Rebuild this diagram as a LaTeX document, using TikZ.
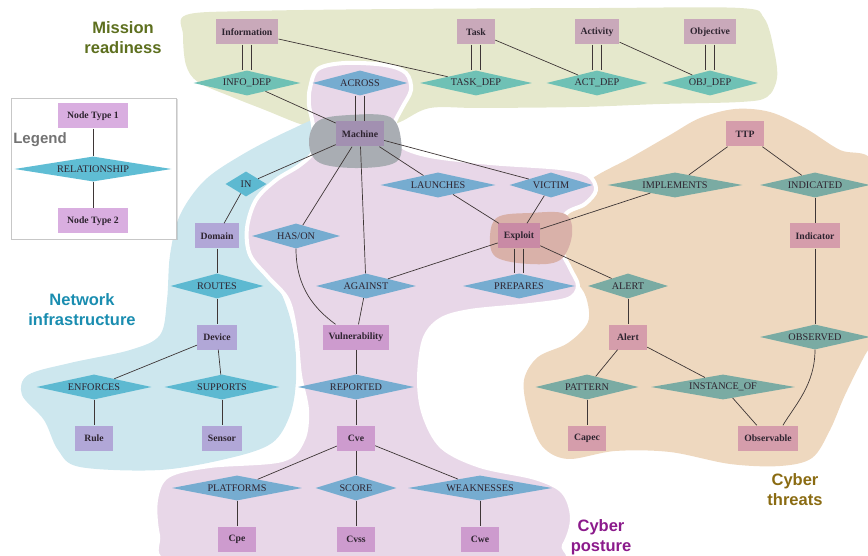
\documentclass[tikz,border=0pt]{standalone}
\usepackage{fontspec}
\setmainfont{Liberation Serif}
\newfontfamily\grouplabelfont{Liberation Sans}
\usetikzlibrary{shapes.geometric, shadows}
\usetikzlibrary{graphs}

% group backgrounds
\definecolor{misbg}{HTML}{E5E8CC}
\definecolor{netbg}{HTML}{CDE7EE}
\definecolor{posbg}{HTML}{E8D7E8}
\definecolor{thrbg}{HTML}{EED8BF}
\definecolor{machbg}{HTML}{A9ADB3}
\definecolor{expbg}{HTML}{D9B1A9}
% node fills
\definecolor{misent}{HTML}{C9A9BA}
\definecolor{misrel}{HTML}{6FC1B5}
\definecolor{netent}{HTML}{B1A7D7}
\definecolor{netrel}{HTML}{5DB9D1}
\definecolor{posent}{HTML}{CD9BCE}
\definecolor{posrel}{HTML}{76ACD0}
\definecolor{thrent}{HTML}{D59DAB}
\definecolor{thrrel}{HTML}{7AABA3}
\definecolor{machcol}{HTML}{A290B1}
\definecolor{expcol}{HTML}{C98AA5}
\definecolor{legent}{HTML}{D9AEE0}
\definecolor{legrelcol}{HTML}{5FBDD4}
% text and lines
\definecolor{nodetext}{HTML}{2E2430}
\definecolor{edgecol}{HTML}{3E3636}
\definecolor{mistext}{HTML}{5D6F1E}
\definecolor{nettext}{HTML}{1A8DB0}
\definecolor{postext}{HTML}{8B1A8B}
\definecolor{thrtext}{HTML}{8A6B12}

\begin{document}
\begin{tikzpicture}[x=1pt, y=-1pt,
    entity/.style={rectangle, minimum height=25pt, minimum width=38pt, inner xsep=6pt,
      font=\fontsize{9.7}{11}\selectfont\bfseries, text=nodetext},
    relation/.style={diamond, inner sep=0pt, minimum height=25pt, minimum width=#1,
      font=\fontsize{10.2}{11}\selectfont, text=nodetext,
      execute at begin node={\hbox to 0pt\bgroup\hss}, execute at end node={\hss\egroup}},
    edgeline/.style={draw=edgecol, line width=0.7pt},
    grouplabel/.style={font=\grouplabelfont\bfseries\fontsize{16.5}{20}\selectfont, align=center}]
  \useasboundingbox (0,0) rectangle (868,556);

  % group areas
  \fill[misbg] plot[smooth cycle, tension=0.55] coordinates {(186,15) (250,11) (400,9) (600,8)
    (740,8) (764,18) (774,50) (777,78) (767,97) (740,102) (660,104) (580,107) (480,108)
    (430,108) (400,122) (370,132) (330,132) (300,124) (265,110) (232,97) (198,82) (186,65) (183,35)};
  \fill[netbg] plot[smooth cycle, tension=0.55] coordinates {(322,118) (335,135) (325,155)
    (300,165) (275,180) (256,205) (250,235) (262,265) (282,295) (294,335) (296,380) (290,415)
    (272,443) (230,458) (160,470) (80,467) (58,450) (44,420) (22,395) (28,375) (70,363)
    (130,350) (160,335) (167,300) (170,255) (180,215) (205,180) (245,153) (290,130)};
  \fill[thrbg] plot[smooth cycle, tension=0.55] coordinates {(548,240) (558,212) (590,180)
    (630,158) (670,135) (700,118) (735,109) (770,112) (805,128) (840,150) (872,160) (888,220)
    (885,320) (865,355) (845,395) (830,430) (812,458) (780,466) (730,464) (670,452) (615,451)
    (568,459) (542,446) (528,412) (524,380) (538,357) (568,343) (588,322) (586,297) (575,280) (560,262)};
  \filldraw[fill=posbg, draw=white, line width=4pt] plot[smooth cycle, tension=0.55] coordinates {
    (310,88) (318,69) (345,63) (385,65) (406,73) (411,90) (402,108) (394,126) (400,145)
    (430,156) (490,163) (560,168) (588,175) (596,190) (585,204) (565,215) (560,245) (570,268)
    (578,286) (568,299) (530,305) (470,311) (440,320) (424,340) (419,380) (424,415) (442,447)
    (480,466) (535,478) (563,492) (572,518) (564,545) (545,562) (300,565) (170,562) (158,535)
    (156,500) (168,476) (210,466) (282,460) (303,440) (307,410) (300,375) (296,335) (288,300)
    (268,277) (250,255) (247,228) (256,200) (276,180) (300,165) (314,150) (313,125) (309,105)};
  \fill[machbg] plot[smooth cycle, tension=0.6] coordinates {(309,143) (318,121) (350,115)
    (390,117) (401,140) (396,162) (360,168) (320,163)};
  \fill[expbg] plot[smooth cycle, tension=0.6] coordinates {(490,236) (498,217) (530,213)
    (565,214) (572,235) (560,260) (530,264) (496,257)};

  % group names
  \node[grouplabel, text=mistext] (mislabel) at (123,38) {Mission\\readiness};
  \node[grouplabel, text=nettext] (netlabel) at (82,310) {Network\\infrastructure};
  \node[grouplabel, text=postext] (poslabel) at (601,537) {Cyber\\posture};
  \node[grouplabel, text=thrtext] (thrlabel) at (795,490) {Cyber\\threats};

  % legend
  \draw[draw=black!22, fill=white, drop shadow={opacity=0.25, shadow xshift=1.5pt, shadow yshift=-1.5pt}]
    (11,98) rectangle (176,239);
  \node[text=black!55, font=\grouplabelfont\bfseries\fontsize{15}{18}\selectfont] (legtitle) at (40,140) {Legend};
  \node[entity, fill=legent, minimum width=70pt] (leg1) at (93,116) {Node Type 1};
  \node[relation=157, fill=legrelcol] (legrel) at (93,169) {RELATIONSHIP};
  \node[entity, fill=legent, minimum width=70pt] (leg2) at (93,221) {Node Type 2};

  % mission readiness
  \node[entity, fill=misent] (info) at (247,32) {Information};
  \node[entity, fill=misent] (task) at (476,32) {Task};
  \node[entity, fill=misent] (act) at (597,32) {Activity};
  \node[entity, fill=misent] (obj) at (710,32) {Objective};
  \node[relation=107, fill=misrel] (infodep) at (247,83) {INFO\_DEP};
  \node[relation=112, fill=misrel] (taskdep) at (476,83) {TASK\_DEP};
  \node[relation=101, fill=misrel] (actdep) at (597,83) {ACT\_DEP};
  \node[relation=96, fill=misrel] (objdep) at (710,83) {OBJ\_DEP};

  % network infrastructure
  \node[relation=41, fill=netrel] (inrel) at (246,184) {IN};
  \node[entity, fill=netent] (domain) at (217,236) {Domain};
  \node[relation=93, fill=netrel] (routes) at (217,286) {ROUTES};
  \node[entity, fill=netent] (device) at (217,337) {Device};
  \node[relation=115, fill=netrel] (enforces) at (94,387) {ENFORCES};
  \node[relation=115, fill=netrel] (supports) at (222,387) {SUPPORTS};
  \node[entity, fill=netent] (rule) at (94,438) {Rule};
  \node[entity, fill=netent] (sensor) at (222,438) {Sensor};

  % cyber posture
  \node[relation=95, fill=posrel] (across) at (360,83) {ACROSS};
  \node[entity, fill=machcol] (machine) at (360,134) {Machine};
  \node[relation=115, fill=posrel] (launches) at (438,185) {LAUNCHES};
  \node[relation=83, fill=posrel] (victim) at (551,185) {VICTIM};
  \node[relation=88, fill=posrel] (hason) at (296,236) {HAS/ON};
  \node[entity, fill=expcol] (exploit) at (519,236) {Exploit};
  \node[relation=100, fill=posrel] (against) at (366,286) {AGAINST};
  \node[relation=112, fill=posrel] (prepares) at (519,286) {PREPARES};
  \node[entity, fill=posent] (vuln) at (356,337) {Vulnerability};
  \node[relation=116, fill=posrel] (reported) at (356,387) {REPORTED};
  \node[entity, fill=posent] (cve) at (356,438) {Cve};
  \node[relation=130, fill=posrel] (platforms) at (237,488) {PLATFORMS};
  \node[relation=81, fill=posrel] (score) at (356,488) {SCORE};
  \node[relation=144, fill=posrel] (weaknesses) at (480,488) {WEAKNESSES};
  \node[entity, fill=posent] (cpe) at (237,539) {Cpe};
  \node[entity, fill=posent] (cvss) at (356,539) {Cvss};
  \node[entity, fill=posent] (cwe) at (480,539) {Cwe};

  % cyber threats
  \node[entity, fill=thrent] (ttp) at (745,134) {TTP};
  \node[relation=135, fill=thrrel] (implements) at (675,185) {IMPLEMENTS};
  \node[relation=110, fill=thrrel] (indicated) at (815,185) {INDICATED};
  \node[entity, fill=thrent] (indicator) at (815,236) {Indicator};
  \node[relation=80, fill=thrrel] (alertrel) at (628,286) {ALERT};
  \node[entity, fill=thrent] (alert) at (628,337) {Alert};
  \node[relation=110, fill=thrrel] (observed) at (815,337) {OBSERVED};
  \node[relation=103, fill=thrrel] (pattern) at (587,387) {PATTERN};
  \node[relation=144, fill=thrrel] (instanceof) at (723,387) {INSTANCE\_OF};
  \node[entity, fill=thrent] (capec) at (587,438) {Capec};
  \node[entity, fill=thrent] (observable) at (768,438) {Observable};

  \graph[edges={edgeline}]{
    (leg1) -- (legrel) -- (leg2),
    (info) -- (taskdep), (task) -- (actdep), (act) -- (objdep),
    (infodep) -- (machine) -- (inrel) -- (domain) -- (routes) -- (device),
    (device) -- (enforces) -- (rule), (device) -- (supports) -- (sensor),
    (machine) -- (hason), (machine) -- (against) -- (vuln),
    (machine) -- (launches) -- (exploit), (machine) -- (victim) -- (exploit),
    (against) -- (exploit), (vuln) -- (reported) -- (cve),
    (cve) -- (platforms) -- (cpe), (cve) -- (score) -- (cvss), (cve) -- (weaknesses) -- (cwe),
    (exploit) -- (implements), (exploit) -- (alertrel) -- (alert),
    (ttp) -- (implements), (ttp) -- (indicated) -- (indicator) -- (observed),
    (alert) -- (pattern) -- (capec), (alert) -- (instanceof) -- (observable)
  };

  % double lines
  \foreach \top/\bot in {info/infodep, task/taskdep, act/actdep, obj/objdep, across/machine, exploit/prepares}
    \foreach \dx in {-4.5,4.5}
      \draw[edgeline] ([xshift=\dx pt]\top.south) -- ([xshift=\dx pt]\bot.north);

  % bent ones
  \draw[edgeline] (hason.south) .. controls +(0,40) and +(-20,-15) .. ([xshift=13pt]vuln.north west);
  \draw[edgeline] (observed.south) .. controls +(0,35) and +(12,-20) .. ([xshift=-15pt]observable.north east);
\end{tikzpicture}
\end{document}
